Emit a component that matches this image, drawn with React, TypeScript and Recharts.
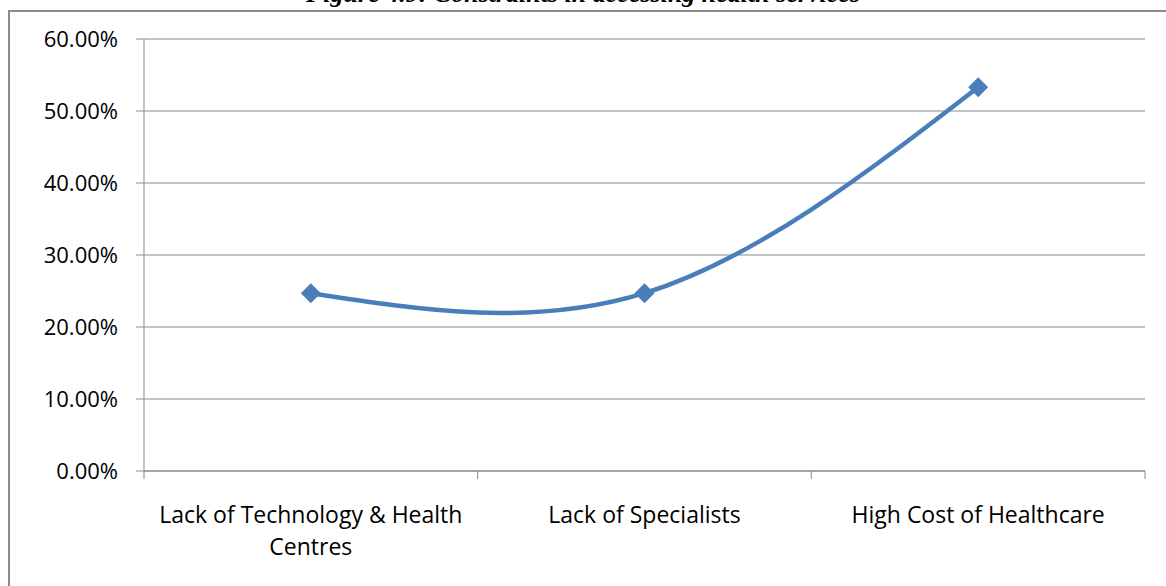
import { LineChart, Line, XAxis, YAxis, CartesianGrid } from "recharts"

const title = "Figure 4.9: Constraints in accessing health services"
const categories = ["Lack of Technology & Health Centres", "Lack of Specialists", "High Cost of Healthcare"]
const shares = [0.247, 0.247, 0.533]
const yTicks = [0, 0.1, 0.2, 0.3, 0.4, 0.5, 0.6]
const xTicks = [0, 1, 2, 3]

const data = categories.map((name, i) => ({ name, pos: i + 0.5, value: shares[i] }))

const W = 1166
const H = 586
const PLOT_LEFT = 144
const PLOT_RIGHT = 21
const BAND = (W - PLOT_LEFT - PLOT_RIGHT) / categories.length
const FONT = "'Open Sans', sans-serif"
const GRID = "#898989"
const BLUE = "#4a7ebb"

// greedy word wrap, Excel breaks the long label after "Health"
function wrap(s: string, max = 28) {
  const lines: string[] = []
  let cur = ""
  for (const w of s.split(" ")) {
    const next = cur ? cur + " " + w : w
    if (next.length > max && cur) {
      lines.push(cur)
      cur = w
    } else cur = next
  }
  if (cur) lines.push(cur)
  return lines
}

function Diamond(props: any) {
  const { cx, cy } = props
  if (cx == null || cy == null) return null
  const r = 10
  return (
    <polygon
      points={`${cx},${cy - r} ${cx + r},${cy} ${cx},${cy + r} ${cx - r},${cy}`}
      fill={BLUE}
    />
  )
}

function CategoryTick(props: any) {
  const { x, y, payload } = props
  const label = categories[payload.value]
  if (!label) return null
  const cx = x + BAND / 2
  return (
    <text x={cx} y={y + 42} textAnchor="middle" fontSize={23} fontFamily={FONT} fill="#000">
      {wrap(label).map((line, i) => (
        <tspan key={i} x={cx} dy={i === 0 ? 0 : 32}>
          {line}
        </tspan>
      ))}
    </text>
  )
}

export default function App() {
  return (
    <div style={{ position: "absolute", left: 0, top: 0, width: W, height: H, overflow: "hidden", background: "#fff" }}>
      <div
        style={{
          position: "absolute", left: 8, top: 10, width: W + 20, height: H + 20,
          border: "2px solid #8c8c8c", boxSizing: "border-box",
        }}
      />
      <div
        style={{
          position: "absolute", left: 0, width: W, top: -20, textAlign: "center",
          fontFamily: "'Liberation Serif', serif", fontWeight: "bold", fontStyle: "italic",
          fontSize: 26, lineHeight: "28px", whiteSpace: "nowrap",
        }}
      >
        {title}
      </div>
      <div style={{ position: "absolute", left: 0, top: 0 }}>
        <LineChart width={W} height={H} data={data} margin={{ top: 39, right: PLOT_RIGHT, left: 0, bottom: 0 }}>
          <CartesianGrid vertical={false} stroke={GRID} strokeWidth={1} />
          <XAxis
            type="number"
            dataKey="pos"
            domain={[0, 3]}
            ticks={xTicks}
            interval={0}
            height={115}
            stroke={GRID}
            tickSize={8}
            tickLine={{ stroke: GRID }}
            tick={<CategoryTick />}
          />
          <YAxis
            domain={[0, 0.6]}
            ticks={yTicks}
            interval={0}
            width={PLOT_LEFT}
            stroke={GRID}
            tickSize={8}
            tickMargin={18}
            tickFormatter={(v: number) => (v * 100).toFixed(2) + "%"}
            tick={{ fontSize: 22, fontFamily: FONT, fill: "#000" }}
          />
          <Line
            type="natural"
            dataKey="value"
            stroke={BLUE}
            strokeWidth={4.5}
            dot={<Diamond />}
            activeDot={false}
            isAnimationActive={false}
          />
        </LineChart>
      </div>
    </div>
  )
}
